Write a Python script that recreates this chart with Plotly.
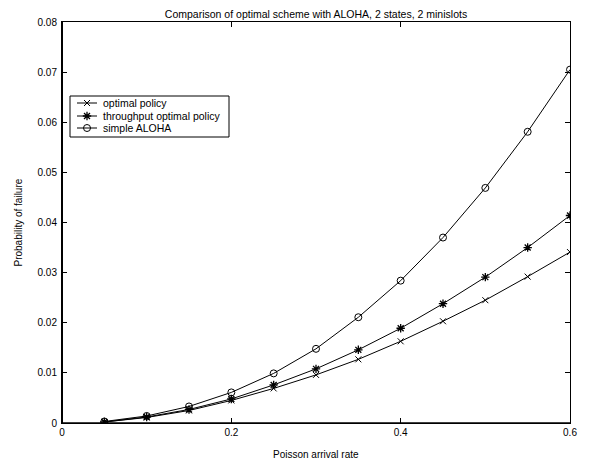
import plotly.graph_objects as go

arrival_rate = [0.05, 0.10, 0.15, 0.20, 0.25, 0.30, 0.35, 0.40, 0.45, 0.50, 0.55, 0.60]
optimal_policy = [0.0002, 0.0011, 0.0025, 0.0045, 0.0069, 0.0096, 0.0127, 0.0163, 0.0203, 0.0245, 0.0292, 0.0341]
throughput_optimal = [0.0002, 0.0012, 0.0027, 0.0048, 0.0076, 0.0108, 0.0146, 0.0189, 0.0238, 0.0291, 0.0350, 0.0414]
simple_aloha = [0.0003, 0.0014, 0.0033, 0.0061, 0.0099, 0.0148, 0.0211, 0.0284, 0.0370, 0.0469, 0.0581, 0.0705]

series_names = ["optimal policy", "throughput optimal policy", "simple ALOHA"]

x_ticks = [0, 0.2, 0.4, 0.6]
x_tick_labels = ["0", "0.2", "0.4", "0.6"]
y_ticks = [0, 0.01, 0.02, 0.03, 0.04, 0.05, 0.06, 0.07, 0.08]
y_tick_labels = ["0", "0.01", "0.02", "0.03", "0.04", "0.05", "0.06", "0.07", "0.08"]

FONT = "Liberation Sans, Arial, Helvetica, sans-serif"
W, H = 590, 461
OFF = 8  # page body margin offset of the rendered figure
# target plot area in screenshot pixels
SX0, SX1, SY0, SY1 = 62, 570, 22, 423
L, T = SX0 - OFF, SY0 - OFF
R = W - L - (SX1 - SX0)
B = H - T - (SY1 - SY0)

markers = [
    dict(symbol="x-thin", size=6, color="black", line=dict(color="black", width=1)),
    dict(symbol="asterisk", size=7, color="black", line=dict(color="black", width=1.3)),
    dict(symbol="circle-open", size=7, color="black", line=dict(color="black", width=1)),
]
series = [optimal_policy, throughput_optimal, simple_aloha]

fig = go.Figure()
for name, ys, mk in zip(series_names, series, markers):
    fig.add_trace(go.Scatter(x=arrival_rate, y=ys, mode="lines+markers", name=name,
                             line=dict(color="black", width=1), marker=mk, showlegend=False))

# custom legend (drawn on a pixel-unit overlay axis pair matching the plot area)
leg_rows = [103, 116, 128]
for name, mk, yy in zip(series_names, markers, leg_rows):
    fig.add_trace(go.Scatter(x=[77, 97], y=[yy, yy], xaxis="x2", yaxis="y2", mode="lines",
                             line=dict(color="black", width=1), showlegend=False, hoverinfo="skip"))
    fig.add_trace(go.Scatter(x=[87], y=[yy], xaxis="x2", yaxis="y2", mode="markers",
                             marker=mk, showlegend=False, hoverinfo="skip"))
    fig.add_annotation(x=101, y=yy, xref="x2", yref="y2", text=name, showarrow=False,
                       xanchor="left", yanchor="middle",
                       font=dict(family=FONT, size=10.5, color="black"))
fig.add_shape(type="rect", xref="x2", yref="y2", x0=70, x1=229, y0=96, y1=137,
              line=dict(color="black", width=1), fillcolor="rgba(0,0,0,0)", layer="above")

fig.update_layout(
    width=W, height=H,
    margin=dict(l=L, r=R, t=T, b=B, autoexpand=False),
    paper_bgcolor="white", plot_bgcolor="white",
    font=dict(family=FONT, size=10, color="black"),
    title=dict(text="Comparison of optimal scheme with ALOHA, 2 states, 2 minislots",
               x=((SX0 + SX1) / 2 - OFF) / W, xanchor="center", xref="container",
               y=1 - 6.5 / H, yanchor="middle", yref="container",
               font=dict(family=FONT, size=10.5, color="black")),
    showlegend=False,
    xaxis=dict(range=[0, 0.6], tickvals=x_ticks, ticktext=x_tick_labels, automargin=False,
               showgrid=False, zeroline=False, showline=True, linecolor="black", linewidth=1,
               mirror="ticks", ticks="inside", ticklen=5, tickcolor="black",
               tickfont=dict(family=FONT, size=10)),
    yaxis=dict(range=[0, 0.08], tickvals=y_ticks, ticktext=y_tick_labels, automargin=False,
               showgrid=False, zeroline=False, showline=True, linecolor="black", linewidth=1,
               mirror="ticks", ticks="inside", ticklen=5, tickcolor="black",
               ticklabelstandoff=2,
               tickfont=dict(family=FONT, size=10)),
    xaxis2=dict(range=[SX0, SX1], overlaying="x", visible=False, fixedrange=True),
    yaxis2=dict(range=[SY1, SY0], overlaying="y", visible=False, fixedrange=True),
)

# axis titles (paper coords are relative to the plot area)
fig.add_annotation(x=(316 - SX0) / (SX1 - SX0), y=(SY1 - 454) / (SY1 - SY0),
                   xref="paper", yref="paper",
                   text="Poisson arrival rate", showarrow=False, xanchor="center", yanchor="middle",
                   font=dict(family=FONT, size=10, color="black"))
fig.add_annotation(x=(18 - SX0) / (SX1 - SX0), y=0.5, xref="paper", yref="paper",
                   text="Probability of failure", showarrow=False, textangle=-90,
                   xanchor="center", yanchor="middle",
                   font=dict(family=FONT, size=10, color="black"))

# heavier left and bottom axis lines
fig.add_shape(type="line", xref="paper", yref="paper", x0=0, x1=0, y0=0, y1=1,
              line=dict(color="black", width=2))
fig.add_shape(type="line", xref="paper", yref="paper", x0=0, x1=1, y0=0, y1=0,
              line=dict(color="black", width=1.5))

fig.write_html("out.html")
